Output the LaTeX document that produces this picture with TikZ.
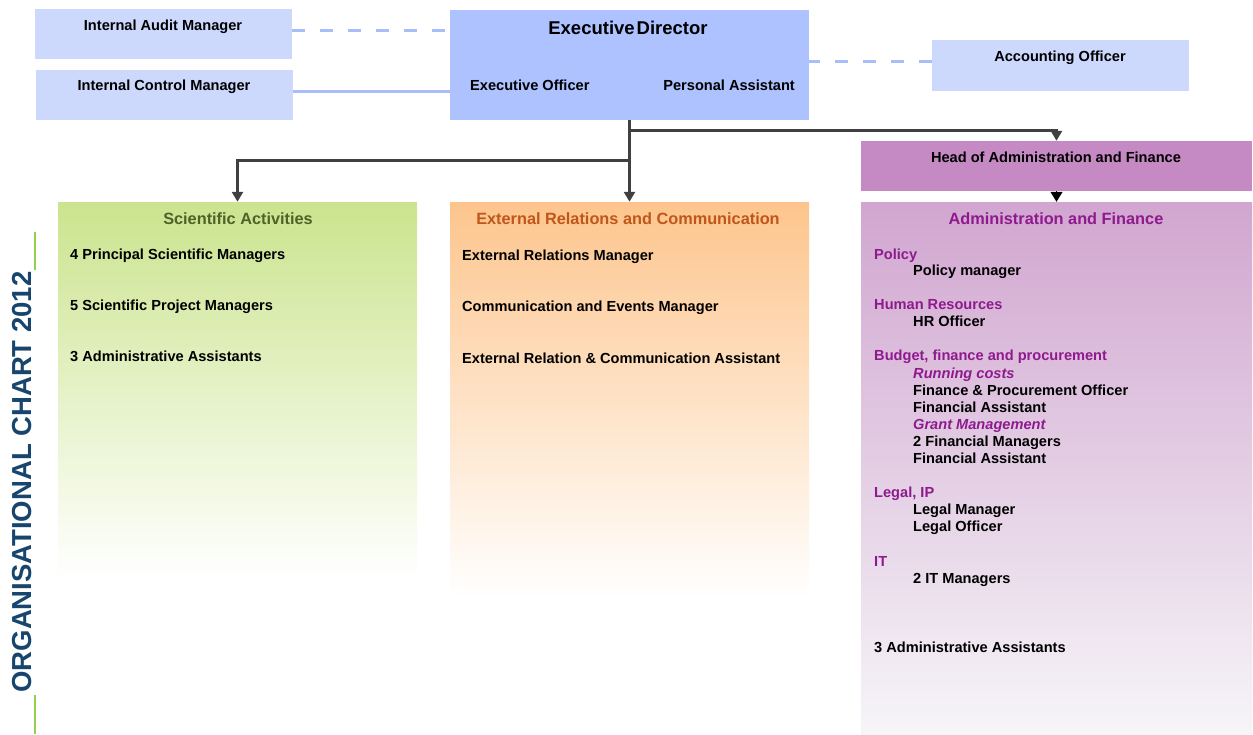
\documentclass[tikz,border=0pt]{standalone}
\usepackage{fontspec}
\setmainfont{Liberation Sans}
\usetikzlibrary{arrows.meta}
\definecolor{lb}{HTML}{CCD9FD}
\definecolor{edc}{HTML}{ADC2FE}
\definecolor{blc}{HTML}{A9BEF9}
\definecolor{headc}{HTML}{C58AC4}
\definecolor{scic}{HTML}{CBE48E}
\definecolor{extc}{HTML}{FDC58D}
\definecolor{admc}{HTML}{D1A6D0}
\definecolor{admb}{HTML}{F6F5F8}
\definecolor{linec}{HTML}{404040}
\definecolor{scit}{HTML}{4F6228}
\definecolor{extt}{HTML}{C0561A}
\definecolor{admt}{HTML}{8E1A8E}
\definecolor{titc}{HTML}{17456E}
\definecolor{grc}{HTML}{92D050}
\begin{document}
\begin{tikzpicture}[x=1pt,y=-1pt,
  box/.style={draw=none,rectangle,inner sep=0pt},
  txt/.style={font=\fontsize{14.6}{17}\selectfont\bfseries,inner sep=0pt},
  ttl/.style={font=\fontsize{16.3}{19}\selectfont\bfseries,inner sep=0pt},
  sub/.style={txt,text=admt},
  conn/.style={draw=linec,line width=3pt,-{Triangle[width=11pt,length=10pt]}},
  blline/.style={draw=blc,line width=3pt},
  bldash/.style={blline,dash pattern=on 13pt off 15pt}]
\useasboundingbox (0,0) rectangle (1253,734);
% boxes
\node[box,fill=lb,minimum width=257pt,minimum height=50pt] (iam) at (163.5,34) {};
\node[box,fill=lb,minimum width=257pt,minimum height=50pt] (icm) at (164.5,95) {};
\node[box,fill=edc,minimum width=359pt,minimum height=110pt] (ed) at (629.5,65) {};
\node[box,fill=lb,minimum width=257pt,minimum height=51pt] (acc) at (1060.5,65.5) {};
\node[box,fill=headc,minimum width=391pt,minimum height=50pt] (head) at (1056.5,166) {};
\node[box,top color=scic,bottom color=white,minimum width=359pt,minimum height=376pt] (sci) at (237.5,390) {};
\node[box,top color=extc,bottom color=white,minimum width=359pt,minimum height=395pt] (ext) at (629.5,399.5) {};
\node[box,top color=admc,bottom color=admb,minimum width=391pt,minimum height=532pt] (adm) at (1056.5,468) {};
% blue connectors
\draw[bldash] ([yshift=4pt]iam.east) -- ([yshift=4pt]iam.east -| ed.west);
\draw[blline] ([yshift=4pt]icm.east) -- ([yshift=4pt]icm.east -| ed.west);
\draw[bldash] ([yshift=4.5pt]acc.west) -- ([yshift=4.5pt]acc.west -| ed.east);
% dark connectors
\coordinate (j1) at (629.5,160);
\coordinate (j2) at (629.5,130);
\draw[conn] (ed.south) -- (ext.north);
\draw[conn] (j1) -- (j1 -| sci.north) -- (sci.north);
\draw[conn] (j2) -- (j2 -| head.north) -- (head.north);
\draw[draw=black,line width=1pt,-{Triangle[width=12pt,length=10pt]}] (head.south) -- (adm.north);
% top texts
\node[txt,anchor=base] (tiam) at (163,30) {Internal Audit Manager};
\node[txt,anchor=base] (ticm) at (164,90) {Internal Control Manager};
\node[font=\fontsize{18.5}{22}\selectfont\bfseries,inner sep=0pt,anchor=base] (ted) at (628,34) {Executive\kern2pt Director};
\node[txt,anchor=base west] (teo) at (470,90) {Executive Officer};
\node[txt,anchor=base east] (tpa) at (795,90) {Personal Assistant};
\node[txt,anchor=base] (tacc) at (1060,61) {Accounting Officer};
\node[txt,anchor=base] (thead) at (1056,162) {Head of Administration and Finance};
% titles
\node[ttl,text=scit,anchor=base] (tsci) at (238,224) {Scientific Activities};
\node[ttl,text=extt,anchor=base] (text) at (628,224) {External Relations and Communication};
\node[ttl,text=admt,anchor=base] (tadm) at (1056,224) {Administration and Finance};
% scientific
\node[txt,anchor=base west] (s1) at (70,259) {4 Principal Scientific Managers};
\node[txt,anchor=base west] (s2) at (70,310) {5 Scientific Project Managers};
\node[txt,anchor=base west] (s3) at (70,361) {3 Administrative Assistants};
% external
\node[txt,anchor=base west] (e1) at (462,260) {External Relations Manager};
\node[txt,anchor=base west] (e2) at (462,311) {Communication and Events Manager};
\node[txt,anchor=base west] (e3) at (462,363) {External Relation \& Communication Assistant};
% admin
\node[sub,anchor=base west] (a1) at (874,259) {Policy};
\node[txt,anchor=base west] (a2) at (913,275) {Policy manager};
\node[sub,anchor=base west] (a3) at (874,309) {Human Resources};
\node[txt,anchor=base west] (a4) at (913,326) {HR Officer};
\node[sub,anchor=base west] (a5) at (874,360) {Budget, finance and procurement};
\node[sub,anchor=base west,font=\fontsize{14.6}{17}\selectfont\bfseries\itshape] (a6) at (913,378) {Running costs};
\node[txt,anchor=base west] (a7) at (913,395) {Finance \& Procurement Officer};
\node[txt,anchor=base west] (a8) at (913,412) {Financial Assistant};
\node[sub,anchor=base west,font=\fontsize{14.6}{17}\selectfont\bfseries\itshape] (a9) at (913,429) {Grant Management};
\node[txt,anchor=base west] (a10) at (913,446) {2 Financial Managers};
\node[txt,anchor=base west] (a11) at (913,463) {Financial Assistant};
\node[sub,anchor=base west] (a12) at (874,497) {Legal, IP};
\node[txt,anchor=base west] (a13) at (913,514) {Legal Manager};
\node[txt,anchor=base west] (a14) at (913,531) {Legal Officer};
\node[sub,anchor=base west] (a15) at (874,566) {IT};
\node[txt,anchor=base west] (a16) at (913,583) {2 IT Managers};
\node[txt,anchor=base west] (a17) at (874,652) {3 Administrative Assistants};
% side title
\node[font=\fontsize{27.5}{30}\selectfont\bfseries,text=titc,rotate=90,inner sep=0pt] (title) at (22,482) {ORGANISATIONAL CHART 2012};
\draw[draw=grc,line width=1.5pt] (35,232) -- (35,270);
\draw[draw=grc,line width=1.5pt] (35,695) -- (35,734);
\end{tikzpicture}
\end{document}
